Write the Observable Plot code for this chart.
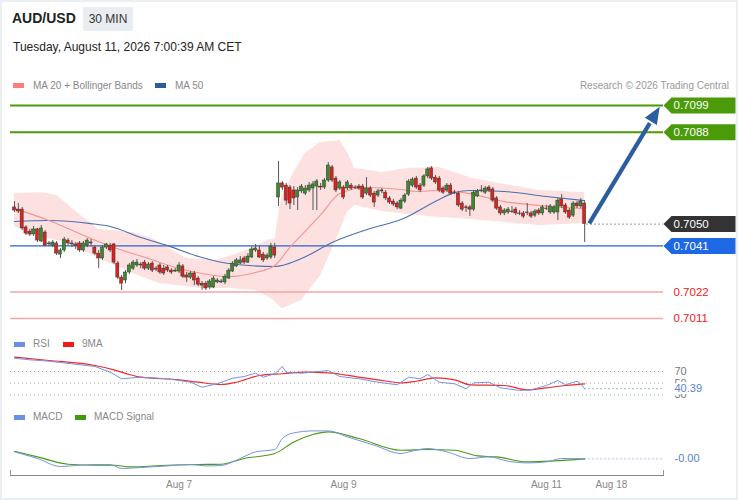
<!DOCTYPE html>
<html><head><meta charset="utf-8">
<script src="https://cdn.jsdelivr.net/npm/d3@7"></script>
<script src="https://cdn.jsdelivr.net/npm/@observablehq/plot@0.6"></script>
<style>
html,body{margin:0;padding:0;background:#fff;}
#wrap{position:relative;width:738px;height:500px;overflow:hidden;font-family:"Liberation Sans",Arial,sans-serif;color:#222;}
#frame{position:absolute;left:0;top:0;width:738px;height:500px;box-sizing:border-box;border:2px solid #ebeff2;pointer-events:none;}
.a{position:absolute;white-space:nowrap;}
.sw{position:absolute;width:11px;height:5px;}
.lg{position:absolute;font-size:10px;line-height:12px;color:#888;white-space:nowrap;}
svg{position:absolute;left:0;}
</style></head><body>
<div id="wrap">
  <div class="a" style="left:12px;top:10px;font-size:14px;line-height:16px;font-weight:bold;color:#222;">AUD/USD</div>
  <div class="a" style="left:83px;top:7px;width:50px;height:24px;background:#e9edf1;font-size:12px;line-height:24px;text-align:center;color:#333;">30 MIN</div>
  <div class="a" style="left:13px;top:40px;font-size:12px;line-height:14px;color:#222;">Tuesday, August 11, 2026 7:00:39 AM CET</div>
  <div class="sw" style="left:13px;top:83px;background:#ff7c7c;"></div>
  <div class="lg" style="left:33px;top:80px;">MA 20 + Bollinger Bands</div>
  <div class="sw" style="left:155px;top:83px;background:#2f5a9e;"></div>
  <div class="lg" style="left:175px;top:80px;">MA 50</div>
  <div class="lg" style="right:9px;top:80px;color:#999;">Research © 2026 Trading Central</div>
  <div class="sw" style="left:14px;top:342px;background:#6b8fe3;"></div>
  <div class="lg" style="left:33px;top:338px;">RSI</div>
  <div class="sw" style="left:63px;top:342px;background:#ee1c1c;"></div>
  <div class="lg" style="left:82px;top:338px;">9MA</div>
  <div class="sw" style="left:14px;top:415px;background:#6b8fe3;"></div>
  <div class="lg" style="left:33px;top:411px;">MACD</div>
  <div class="sw" style="left:75px;top:415px;background:#3f9a0c;"></div>
  <div class="lg" style="left:94px;top:411px;">MACD Signal</div>
  <div id="frame"></div>
</div>
<script>
// ---------- candles (30 min) ----------
const open = [
.70569,.70560,.70560,.70486,.70469,.70457,.70478,.70428,.70465,.70416,
.70411,.70420,.70374,.70391,.70432,.70420,.70416,.70420,.70391,.70411,
.70424,.70403,.70378,.70358,.70403,.70411,.70416,.70337,.70279,.70267,
.70300,.70316,.70329,.70333,.70341,.70316,.70337,.70316,.70329,.70316,
.70321,.70308,.70304,.70304,.70325,.70288,.70279,.70296,.70275,.70254,
.70254,.70238,.70238,.70259,.70259,.70259,.70275,.70304,.70325,.70337,
.70358,.70341,.70362,.70391,.70391,.70374,.70358,.70362,.70403,.70610,
.70668,.70659,.70651,.70639,.70610,.70635,.70626,.70639,.70647,.70655,
.70655,.70651,.70680,.70734,.70688,.70647,.70651,.70647,.70659,.70651,
.70655,.70655,.70626,.70647,.70626,.70618,.70639,.70630,.70606,.70593,
.70585,.70564,.70593,.70622,.70659,.70688,.70659,.70659,.70697,.70730,
.70692,.70688,.70647,.70639,.70659,.70630,.70626,.70585,.70569,.70569,
.70560,.70614,.70639,.70630,.70651,.70643,.70606,.70569,.70544,.70548,
.70552,.70560,.70544,.70544,.70548,.70544,.70535,.70556,.70544,.70564,
.70548,.70548,.70548,.70602,.70577,.70556,.70535,.70585,.70573,.70585];
const high = [
.70593,.70585,.70569,.70494,.70478,.70490,.70482,.70494,.70473,.70428,
.70432,.70428,.70399,.70445,.70440,.70432,.70424,.70428,.70428,.70440,
.70436,.70411,.70391,.70411,.70420,.70420,.70420,.70345,.70288,.70308,
.70337,.70350,.70354,.70341,.70350,.70341,.70345,.70325,.70337,.70329,
.70329,.70316,.70316,.70341,.70333,.70300,.70304,.70304,.70283,.70263,
.70263,.70271,.70283,.70275,.70271,.70292,.70316,.70345,.70358,.70366,
.70366,.70378,.70407,.70416,.70407,.70383,.70378,.70420,.70420,.70759,
.70676,.70668,.70659,.70655,.70651,.70664,.70659,.70672,.70676,.70684,
.70668,.70688,.70754,.70742,.70697,.70680,.70659,.70680,.70668,.70659,
.70664,.70664,.70692,.70655,.70635,.70643,.70647,.70639,.70614,.70602,
.70593,.70606,.70626,.70684,.70692,.70697,.70668,.70705,.70734,.70738,
.70701,.70697,.70655,.70668,.70668,.70639,.70635,.70593,.70577,.70577,
.70639,.70643,.70659,.70655,.70659,.70651,.70614,.70577,.70564,.70569,
.70573,.70569,.70556,.70552,.70585,.70552,.70560,.70564,.70577,.70577,
.70581,.70577,.70606,.70622,.70585,.70564,.70593,.70593,.70606,.70593];
const low = [
.70548,.70544,.70473,.70453,.70449,.70449,.70424,.70424,.70407,.70407,
.70403,.70370,.70358,.70383,.70411,.70403,.70395,.70383,.70383,.70403,
.70407,.70370,.70316,.70350,.70395,.70383,.70333,.70271,.70226,.70254,
.70292,.70308,.70321,.70316,.70308,.70308,.70300,.70304,.70292,.70288,
.70300,.70292,.70300,.70296,.70275,.70259,.70271,.70246,.70242,.70226,
.70226,.70230,.70234,.70254,.70254,.70250,.70271,.70300,.70321,.70333,
.70333,.70337,.70358,.70383,.70358,.70341,.70350,.70354,.70358,.70573,
.70639,.70577,.70560,.70577,.70556,.70626,.70618,.70630,.70556,.70556,
.70639,.70643,.70672,.70672,.70630,.70639,.70602,.70639,.70639,.70643,
.70639,.70602,.70618,.70610,.70569,.70610,.70626,.70597,.70581,.70573,
.70560,.70560,.70585,.70614,.70651,.70643,.70630,.70651,.70688,.70680,
.70664,.70630,.70622,.70630,.70618,.70622,.70569,.70552,.70548,.70531,
.70552,.70610,.70630,.70622,.70630,.70589,.70556,.70535,.70535,.70540,
.70544,.70535,.70535,.70523,.70535,.70523,.70527,.70535,.70535,.70556,
.70540,.70540,.70515,.70564,.70540,.70519,.70527,.70564,.70564,.70424];
const close = [
.70556,.70552,.70482,.70461,.70457,.70478,.70432,.70482,.70411,.70420,
.70424,.70378,.70391,.70436,.70420,.70416,.70411,.70391,.70420,.70432,
.70420,.70378,.70358,.70403,.70416,.70391,.70341,.70279,.70254,.70300,
.70329,.70341,.70341,.70329,.70316,.70333,.70308,.70312,.70300,.70296,
.70308,.70300,.70308,.70329,.70283,.70279,.70296,.70267,.70250,.70246,
.70234,.70263,.70275,.70267,.70263,.70283,.70308,.70337,.70350,.70350,
.70341,.70366,.70395,.70399,.70362,.70350,.70370,.70407,.70370,.70668,
.70651,.70597,.70585,.70606,.70639,.70655,.70647,.70659,.70664,.70676,
.70651,.70680,.70742,.70680,.70639,.70672,.70610,.70672,.70647,.70649,
.70647,.70610,.70647,.70618,.70589,.70635,.70635,.70606,.70589,.70581,
.70569,.70597,.70618,.70676,.70684,.70651,.70639,.70697,.70726,.70688,
.70672,.70639,.70630,.70659,.70626,.70628,.70577,.70560,.70567,.70560,
.70630,.70635,.70637,.70647,.70639,.70597,.70564,.70544,.70556,.70560,
.70550,.70544,.70542,.70531,.70546,.70531,.70552,.70544,.70569,.70562,
.70573,.70569,.70597,.70573,.70548,.70527,.70585,.70573,.70593,.70500];

// ---------- indicators (sampled at candle index) ----------
const bbIdx   = [0,7,11,18,22,31,36,40,45,53,62,66,68,69,70,73,76,80,85,87,89,96,103,111,119,128,137,149];
const bbUpper = [.70626,.70630,.70618,.70527,.70478,.70465,.70440,.70403,.70358,.70350,.70399,.70432,.70440,.70535,.70618,.70713,.70792,.70837,.70845,.70796,.70730,.70713,.70730,.70734,.70692,.70664,.70639,.70630];
const bbLowIdx = [0,7,15,22,25,31,38,49,56,63,67,70,75,80,84,87,89,96,103,111,119,128,137,149];
const bbLower  = [.70490,.70449,.70416,.70358,.70337,.70296,.70254,.70234,.70234,.70226,.70193,.70151,.70184,.70288,.70432,.70548,.70577,.70552,.70540,.70527,.70519,.70507,.70494,.70502];
const ma20Idx = [0,9,20,26,35,42,49,56,63,68,72,76,80,85,92,101,105,111,119,128,137,149];
const ma20    = [.70564,.70515,.70440,.70403,.70358,.70321,.70296,.70283,.70300,.70329,.70404,.70471,.70538,.70626,.70651,.70643,.70635,.70639,.70626,.70593,.70577,.70564];
const ma50Idx = [0,9,20,25,33,40,49,56,68,75,83,93,101,111,115,119,128,139,149];
const ma50    = [.70511,.70515,.70502,.70490,.70445,.70411,.70362,.70337,.70325,.70358,.70424,.70482,.70519,.70602,.70630,.70639,.70635,.70614,.70597];

const rsiIdx = [0,4,9,15,21,25,28,33,40,46,49,53,57,60,63,65,68,70,71,75,82,85,90,95,100,103,106,108,111,115,118,120,124,127,132,135,139,142,144,147,148,149];
const rsi    = [92.8,90.1,87.7,83.2,78.6,68.8,57.5,60.2,57.5,51.6,43.0,48.9,58.5,61.4,67.1,60.2,66.1,78.6,68.8,67.1,71.7,61.4,57.5,51.6,47.2,60.2,57.5,64.8,51.6,48.9,40.3,50.6,51.6,42.0,37.4,38.6,46.0,54.5,47.2,53.3,48.9,40.39];
const rsiMaIdx = [0,9,21,26,30,33,43,48,54,58,64,70,76,82,90,95,101,105,110,115,119,128,134,139,144,149];
const rsiMa    = [94.6,88.9,80.3,72.9,64.8,60.2,55.7,51.6,47.7,51.6,63.1,66.1,68.8,67.8,60.2,55.7,50.6,53.3,59.2,55.7,47.2,46.0,38.6,42.0,46.0,48.9];
const rsiLevels = [70, 50, 30];

const macdIdx = [0,6,12,16,21,25,28,33,40,46,50,54,58,63,68,70,73,78,82,87,94,101,103,108,113,119,124,129,134,139,143,149];
const macd    = [.000066,0,-.00008,-.00007,-.00006,-.00006,-.0001,-.00009,-.000074,-.00006,-.000074,-.00007,-.000017,.000066,.00009,.0002,.000256,.000276,.000276,.000216,.000133,.00005,.000066,.0001,.000066,0,.000016,-.000027,-.000044,-.000034,0,-.000003];
const sigIdx  = [0,6,14,21,26,30,40,48,54,60,68,73,78,82,90,101,108,115,121,126,134,141,149];
const signal  = [.000073,.000016,-.000057,-.000067,-.000067,-.000084,-.000067,-.00006,-.000057,0,.00005,.000166,.00024,.000266,.0002,.000083,.00009,.000083,.000026,.000016,-.000034,-.000024,-.000004];

// ---------- levels / labels ----------
const resistance = [0.7099, 0.7088];
const pivot = 0.7041;
const support = [0.7022, 0.7011];
const lastPrice = 0.7050;
const target = {fromIdx: 150.2, fromPrice: 0.70503, toIdx: 168.6, toPrice: 0.70985};

const tickIdx = [43, 86, 139, 156];
const tickLabels = ["Aug 7", "Aug 9", "Aug 11", "Aug 18"];

// ---------- build ----------
const xDom = [-1.05, 169.6];
const yDom = [0.7011, 0.7099];
const xRange = [10, 663], yRange = [223, 10];
const W = 738;
const font = "Liberation Sans, Arial, sans-serif";
const GREEN = "#4b9a0a", BLUE = "#1f68e3", RED = "#f22020", DARK = "#333333", ARROW = "#2c5d9e";

const candles = close.map((c, i) => ({i, o: open[i], h: high[i], l: low[i], c}));
const bandGrid = d3.range(0, close.length).map(i => ({
  i,
  hi: d3.scaleLinear().domain(bbIdx).range(bbUpper)(i),
  lo: d3.scaleLinear().domain(bbLowIdx).range(bbLower)(i)
}));

// arrow geometry: direction in screen space from the same scales
const sx = Plot.scale({x: {domain: xDom, range: xRange}});
const sy = Plot.scale({y: {domain: yDom, range: yRange}});
const adx = sx.apply(target.toIdx) - sx.apply(target.fromIdx);
const ady = sy.apply(target.toPrice) - sy.apply(target.fromPrice);
const arrowAngle = Math.atan2(ady, adx) * 180 / Math.PI;
const shaft = [{
  x1: target.fromIdx, y1: target.fromPrice,
  x2: target.fromIdx + 0.86 * (target.toIdx - target.fromIdx),
  y2: target.fromPrice + 0.86 * (target.toPrice - target.fromPrice)
}];
const head = {draw(ctx) { ctx.moveTo(0, 0); ctx.lineTo(-17, -7); ctx.lineTo(-17, 7); ctx.closePath(); }};

const tag = {draw(ctx) {
  ctx.moveTo(0, 0); ctx.lineTo(8, -8); ctx.lineTo(72, -8);
  ctx.lineTo(72, 8); ctx.lineTo(8, 8); ctx.closePath();
}};
const boxes = [
  {v: resistance[0], fill: GREEN},
  {v: resistance[1], fill: GREEN},
  {v: lastPrice, fill: DARK},
  {v: pivot, fill: BLUE}
];
const redLabels = support.map(v => ({v}));

const common = {width: W, marginLeft: 10, marginRight: W - 663,
  style: {fontFamily: font, background: "transparent", overflow: "visible"}};

const main = Plot.plot({
  ...common, height: 240, marginTop: 0, marginBottom: 0,
  x: {domain: xDom, range: xRange, axis: null},
  y: {domain: yDom, range: yRange, axis: null},
  color: {type: "identity"},
  marks: [
    Plot.area(bandGrid, {x1: "i", y1: "lo", y2: "hi", fill: "#fde1e1", curve: "monotone-x"}),
    Plot.ruleY(resistance, {x1: () => xDom[0], x2: () => xDom[1], stroke: GREEN, strokeWidth: 2}),
    Plot.ruleY(support, {x1: () => xDom[0], x2: () => xDom[1], stroke: "#f6a6a6", strokeWidth: 1.5}),
    Plot.ruleY([pivot], {x1: () => xDom[0], x2: () => xDom[1], stroke: "#2b63c8", strokeWidth: 1.3}),
    Plot.line(ma50Idx.map((i, k) => ({i, v: ma50[k]})), {x: "i", y: "v", stroke: "#4a6fb3", strokeWidth: 1.1, curve: "monotone-x"}),
    Plot.line(ma20Idx.map((i, k) => ({i, v: ma20[k]})), {x: "i", y: "v", stroke: "#f59393", strokeWidth: 1.1, curve: "monotone-x"}),
    Plot.ruleX(candles, {x: "i", y1: "l", y2: "h", stroke: "#555", strokeWidth: 1}),
    Plot.rect(candles, {x1: d => d.i - 0.4, x2: d => d.i + 0.4, y1: "o", y2: "c",
      fill: d => d.c >= d.o ? "#3d8a2c" : "#e2201c", stroke: "#333", strokeWidth: 0.5}),
    Plot.ruleY([lastPrice], {x1: () => close.length - 0.4, x2: () => xDom[1], stroke: "#555", strokeDasharray: "1.2,2.8"}),
    Plot.link(shaft, {x1: "x1", y1: "y1", x2: "x2", y2: "y2", stroke: ARROW, strokeWidth: 4.2}),
    Plot.dot([target], {x: "toIdx", y: "toPrice", symbol: head, fill: ARROW, r: 4, rotate: arrowAngle}),
    Plot.dot(boxes, {x: () => xDom[1], y: "v", symbol: tag, fill: "fill", r: 4}),
    Plot.text(boxes, {x: () => xDom[1], y: "v", text: d => d.v.toFixed(4), dx: 10, textAnchor: "start", fill: "white", fontSize: 11.5}),
    Plot.text(redLabels, {x: () => xDom[1], y: "v", text: d => d.v.toFixed(4), dx: 10, textAnchor: "start", fill: RED, fontSize: 11.5})
  ]
});
main.style.top = "95px";

const rsiPanel = Plot.plot({
  ...common, height: 70, marginTop: 0, marginBottom: 0,
  x: {domain: xDom, range: xRange, axis: null},
  y: {domain: [30, 70], range: [59.3, 36], axis: null},
  marks: [
    Plot.ruleY(rsiLevels, {x1: () => xDom[0], x2: () => xDom[1], stroke: "#aaa", strokeDasharray: "1,3"}),
    Plot.ruleY([rsi[rsi.length - 1]], {x1: () => close.length - 1, x2: () => xDom[1], stroke: "#7c98e0", strokeDasharray: "1.5,2.5"}),
    Plot.line(rsiMaIdx.map((i, k) => ({i, v: rsiMa[k]})), {x: "i", y: "v", stroke: "#ee2a2a", strokeWidth: 1.2, curve: "monotone-x"}),
    Plot.line(rsiIdx.map((i, k) => ({i, v: rsi[k]})), {x: "i", y: "v", stroke: "#7593e3", strokeWidth: 1, curve: "linear"}),
    Plot.text(rsiLevels, {x: () => xDom[1], y: d => d, text: d => String(d), dx: 11, textAnchor: "start", fill: "#777", fontSize: 11}),
    Plot.text([rsi[rsi.length - 1]], {x: () => xDom[1], y: d => d, text: d => d.toFixed(2), dx: 11, textAnchor: "start",
      fill: "#5a80dc", stroke: "white", strokeWidth: 5, fontSize: 11})
  ]
});
rsiPanel.style.top = "335px";

const macdPanel = Plot.plot({
  ...common, height: 95, marginTop: 0, marginBottom: 25,
  x: {domain: xDom, range: xRange, ticks: tickIdx, tickFormat: d => tickLabels[tickIdx.indexOf(d)],
      tickSize: 0, tickPadding: 5, label: null, line: true, fontSize: 11},
  y: {domain: [0, 0.0001], range: [53, 43], axis: null},
  marks: [
    Plot.ruleX([xDom[0], xDom[1]], {insetTop: 65, stroke: "#999"}),
    Plot.ruleY([macd[macd.length - 1]], {x1: () => close.length - 1, x2: () => xDom[1], stroke: "#9fb3e6", strokeDasharray: "1.5,2.5"}),
    Plot.line(sigIdx.map((i, k) => ({i, v: signal[k]})), {x: "i", y: "v", stroke: "#4a9a12", strokeWidth: 1.1, curve: "monotone-x"}),
    Plot.line(macdIdx.map((i, k) => ({i, v: macd[k]})), {x: "i", y: "v", stroke: "#7593e3", strokeWidth: 1, curve: "monotone-x"}),
    Plot.text([macd[macd.length - 1]], {x: () => xDom[1], y: d => d, text: d => d.toFixed(2), dx: 11, textAnchor: "start", fill: "#5a80dc", fontSize: 11})
  ]
});
macdPanel.style.top = "405px";
macdPanel.style.color = "#888";

const wrap = document.getElementById("wrap");
const frame = document.getElementById("frame");
wrap.insertBefore(main, frame);
wrap.insertBefore(rsiPanel, frame);
wrap.insertBefore(macdPanel, frame);
</script>
</body></html>
